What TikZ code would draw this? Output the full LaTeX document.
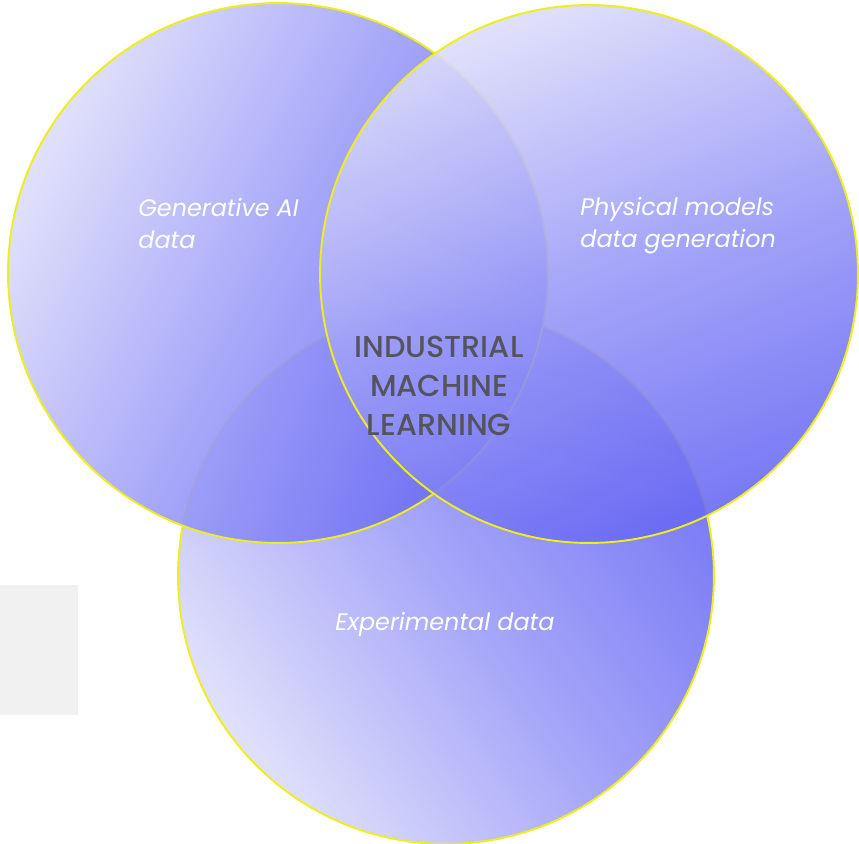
\documentclass[tikz,border=0pt]{standalone}
\usepackage{fontspec}
\setmainfont{Poppins}
\newfontfamily\imlfont{Poppins}[UprightFont=* Medium]
\usetikzlibrary{shadings}
\definecolor{lav}{RGB}{222,222,251}
\definecolor{mid}{RGB}{156,156,248}
\definecolor{blu}{RGB}{106,106,244}
\definecolor{rim}{RGB}{238,238,30}
\definecolor{gray1}{RGB}{241,241,241}
\definecolor{txtgray}{RGB}{84,84,94}
\tikzset{
  set/.style={circle,draw=rim,line width=1.1pt,inner sep=0pt,fill opacity=0.9,top color=lav,bottom color=blu,middle color=mid},
  tag/.style={text=white,font=\fontsize{13.6}{18}\selectfont\itshape,align=left,inner sep=0pt},
}
\begin{document}
\begin{tikzpicture}[x=0.02cm,y=-0.02cm]
\useasboundingbox (0,0) rectangle (859,843);
%
\fill[gray1] (0,585) rectangle (78,715);
%
% the three sets, back to front
\node[set,minimum size=10.72cm,shading angle=125] (expt) at (446,576) {};
\node[set,minimum size=10.8cm,shading angle=63] (gen) at (278,273) {};
\node[set,minimum size=10.76cm,shading angle=22] (phys) at (589,274) {};
%
\node[tag,anchor=north west] (gentxt) at (138,198) {Generative AI\\data};
\node[tag,anchor=north west] (phystxt) at (580,197) {Physical models\\data generation};
\node[tag,anchor=north west] (expttxt) at (335,612) {Experimental data};
%
\node[text=txtgray,font=\imlfont\fontsize{17.2}{22}\selectfont,align=center,inner sep=0pt] (iml) at (439,386) {INDUSTRIAL\\MACHINE\\LEARNING};
\end{tikzpicture}
\end{document}
